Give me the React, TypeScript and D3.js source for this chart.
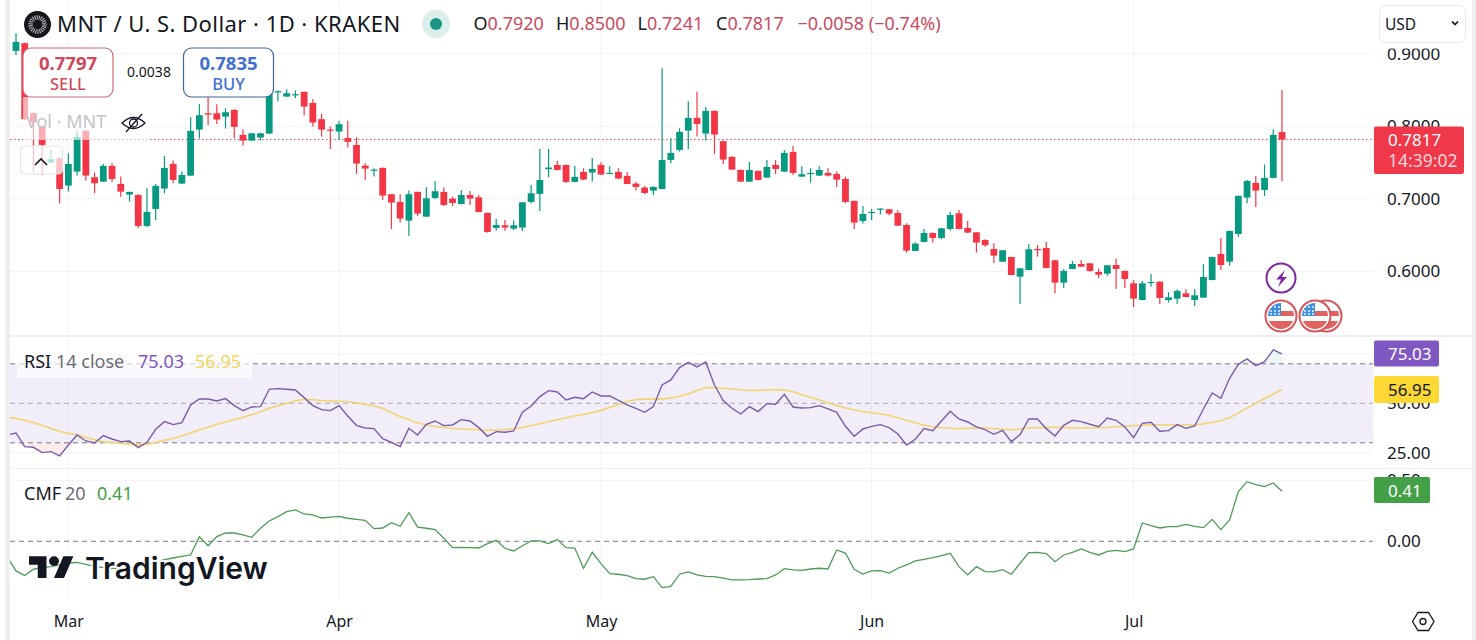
import React, { useRef, useEffect } from 'react';
import * as d3 from 'd3';

const width = 1476;
const height = 640;

// daily candles, first one is Feb 23
const firstDay = new Date(Date.UTC(2025, 1, 23));
const lastDay = new Date(Date.UTC(2025, 6, 18));

const opens = [
  .9041, .9146, .8180, .7996, .7500, .7559, .7182, .7375, .7937, .7297,
  .7237, .7454, .7205, .7058, .7053, .6626, .6860, .7141, .7481, .7210,
  .7320, .7955, .8180, .8180, .8134, .8226, .7881, .7803, .7845, .7900,
  .8470, .8410, .8433, .8475, .8323, .8098, .7955, .7927, .7840, .7743,
  .7458, .7394, .7426, .7063, .6957, .6699, .7095, .6754, .7012, .7095,
  .7003, .6929, .7053, .7021, .6805, .6598, .6635, .6589, .6603, .6957,
  .7067, .7408, .7467, .7467, .7233, .7371, .7362, .7467, .7348, .7371,
  .7316, .7210, .7155, .7113, .7136, .7536, .7674, .7941, .8116, .7900,
  .8213, .7794, .7578, .7398, .7237, .7385, .7293, .7467, .7375, .7647,
  .7306, .7348, .7320, .7357, .7343, .7274, .6971, .6695, .6810, .6856,
  .6856, .6805, .6639, .6281, .6405, .6529, .6460, .6584, .6800, .6598,
  .6538, .6432, .6308, .6133, .6198, .5926, .6018, .6308, .6322, .6152,
  .5844, .6032, .6101, .6110, .5991, .5968, .6087, .6005, .5834, .5604,
  .5844, .5857, .5604, .5623, .5696, .5604, .5637, .5880, .6239, .6133,
  .6515, .7017, .7219, .7122, .7288, .7920,
];
const highs = [
  .9284, .9156, .8190, .8006, .7674, .7569, .7628, .7927, .7946, .7362,
  .7481, .7490, .7306, .7099, .7063, .7145, .7205, .7592, .7527, .7375,
  .8125, .8309, .8401, .8305, .8249, .8236, .7960, .7909, .7909, .8493,
  .8493, .8512, .8493, .8479, .8374, .8171, .7996, .8075, .8075, .7849,
  .7490, .7421, .7431, .7067, .7063, .7113, .7099, .7159, .7247, .7159,
  .7030, .7122, .7109, .7053, .6810, .6722, .6708, .6699, .6957, .7191,
  .7688, .7688, .7523, .7472, .7454, .7421, .7564, .7504, .7449, .7421,
  .7371, .7233, .7178, .7173, .8806, .7835, .7973, .8346, .8475, .8268,
  .8217, .7799, .7587, .7403, .7509, .7389, .7536, .7536, .7674, .7730,
  .7449, .7421, .7449, .7421, .7375, .7306, .6975, .6902, .6860, .6869,
  .6860, .6846, .6662, .6400, .6584, .6534, .6598, .6823, .6846, .6695,
  .6543, .6442, .6386, .6294, .6202, .6046, .6377, .6363, .6405, .6156,
  .6032, .6143, .6156, .6115, .6037, .6087, .6175, .6009, .5880, .5867,
  .5963, .5862, .5710, .5752, .5752, .5752, .6101, .6202, .6460, .6561,
  .7044, .7260, .7316, .7472, .7960, .8500,
];
const lows = [
  .8985, .8088, .7375, .7329, .7490, .6938, .7099, .7320, .7251, .7076,
  .7233, .7228, .7030, .6961, .6593, .6607, .6708, .7076, .7214, .7205,
  .7316, .7831, .8019, .8033, .7969, .7835, .7734, .7799, .7803, .7895,
  .8341, .8406, .8387, .8148, .7996, .7858, .7688, .7812, .7707, .7343,
  .7260, .7306, .6984, .6584, .6672, .6488, .6764, .6750, .6998, .6902,
  .6902, .6920, .6915, .6810, .6534, .6561, .6561, .6570, .6557, .6934,
  .6833, .7297, .7389, .7219, .7228, .7260, .7237, .7325, .7343, .7270,
  .7201, .7113, .7063, .7053, .7132, .7490, .7651, .7688, .7858, .7803,
  .7619, .7481, .7398, .7233, .7233, .7251, .7288, .7343, .7371, .7329,
  .7302, .7224, .7316, .7306, .7164, .6938, .6584, .6658, .6708, .6782,
  .6773, .6626, .6258, .6276, .6400, .6396, .6442, .6561, .6580, .6529,
  .6258, .6340, .6115, .6129, .5945, .5549, .6014, .6202, .6037, .5696,
  .5770, .6028, .6060, .5995, .5908, .5940, .5756, .5770, .5508, .5600,
  .5788, .5549, .5568, .5549, .5641, .5522, .5632, .5876, .6018, .6078,
  .6478, .6938, .6888, .7040, .7279, .7241,
];
const closes = [
  .9165, .8098, .8052, .7743, .7546, .7136, .7481, .7849, .7320, .7214,
  .7454, .7274, .7099, .7095, .6626, .6819, .7178, .7426, .7260, .7329,
  .7937, .8153, .8162, .8093, .8194, .7992, .7803, .7904, .7904, .8466,
  .8484, .8456, .8443, .8272, .8052, .7955, .7946, .8029, .7785, .7486,
  .7417, .7403, .7044, .6948, .6727, .7063, .6796, .7007, .7104, .6915,
  .6943, .7053, .7003, .6819, .6543, .6639, .6603, .6635, .6952, .7076,
  .7260, .7431, .7398, .7233, .7302, .7265, .7412, .7334, .7357, .7279,
  .7205, .7164, .7081, .7164, .7536, .7633, .7923, .8116, .8033, .8213,
  .7886, .7541, .7403, .7237, .7398, .7260, .7440, .7412, .7633, .7357,
  .7339, .7357, .7398, .7320, .7265, .6957, .6672, .6791, .6819, .6865,
  .6796, .6630, .6285, .6382, .6529, .6460, .6593, .6777, .6584, .6534,
  .6396, .6359, .6216, .6290, .5949, .6041, .6304, .6290, .6046, .5844,
  .6005, .6101, .6064, .6005, .5954, .6083, .6032, .5894, .5623, .5834,
  .5853, .5632, .5641, .5729, .5646, .5669, .5922, .6198, .6087, .6557,
  .7040, .7247, .7113, .7288, .7881, .7817,
];

// indicator series start one day earlier than the candles (off the left edge)
const rsiValues = [
  33.96, 34.98, 28.06, 27.72, 25.02, 25.52, 23.33, 28.90, 33.96, 30.93,
  29.91, 33.63, 31.94, 30.59, 30.93, 27.55, 30.25, 36.83, 40.72, 39.20,
  40.21, 49.16, 52.19, 52.19, 51.18, 52.36, 48.82, 46.29, 48.14, 48.31,
  57.09, 57.43, 57.09, 56.75, 52.87, 48.82, 46.79, 46.29, 48.82, 43.59,
  38.86, 37.51, 37.17, 32.11, 30.25, 28.06, 37.34, 33.96, 39.37, 41.05,
  38.69, 39.03, 41.73, 41.05, 37.68, 33.29, 35.65, 35.31, 35.99, 45.44,
  48.65, 53.38, 56.41, 55.74, 51.69, 53.04, 52.36, 55.74, 53.71, 53.71,
  51.52, 49.16, 47.47, 45.44, 48.31, 59.28, 61.82, 68.06, 70.76, 68.40,
  70.93, 59.28, 51.35, 47.47, 44.60, 48.31, 45.78, 49.83, 49.49, 54.56,
  48.14, 47.64, 47.81, 48.82, 47.13, 45.44, 38.35, 33.29, 37.00, 38.35,
  39.20, 37.68, 34.47, 28.90, 31.77, 37.17, 36.16, 41.05, 45.95, 42.07,
  40.55, 38.02, 36.66, 34.30, 36.33, 30.59, 34.13, 42.07, 42.07, 37.17,
  33.46, 38.86, 41.39, 40.72, 39.37, 38.18, 42.57, 41.39, 38.02, 32.61,
  39.87, 40.38, 35.82, 36.16, 39.20, 37.34, 38.52, 47.13, 55.23, 52.53,
  62.66, 69.75, 72.45, 69.07, 71.10, 77.01, 75.03,
];
const rsiMa = [
  42.91, 42.40, 41.39, 40.21, 38.86, 37.34, 35.82, 34.81, 34.13, 32.78,
  31.60, 30.59, 30.25, 29.74, 29.40, 28.90, 29.24, 30.25, 31.26, 32.27,
  33.46, 34.98, 36.50, 37.85, 39.37, 40.55, 41.73, 42.91, 44.26, 45.78,
  47.47, 48.82, 50.00, 51.18, 52.03, 51.86, 51.35, 51.18, 51.01, 50.84,
  50.17, 49.49, 48.65, 47.47, 45.27, 43.25, 41.73, 40.04, 39.03, 38.18,
  37.85, 37.34, 37.00, 36.83, 36.66, 36.33, 36.50, 36.66, 37.00, 37.68,
  38.69, 39.70, 40.72, 41.56, 42.57, 43.59, 44.43, 45.27, 46.45, 47.97,
  49.32, 50.84, 51.86, 52.19, 52.19, 52.19, 52.70, 53.54, 54.73, 56.41,
  57.93, 58.10, 57.60, 57.26, 56.75, 56.58, 56.58, 56.75, 56.92, 56.75,
  55.74, 54.39, 53.04, 51.69, 50.17, 48.82, 47.64, 46.62, 45.78, 45.10,
  44.60, 43.92, 42.74, 41.39, 40.21, 38.86, 38.18, 37.68, 37.34, 37.17,
  37.34, 37.51, 37.51, 37.17, 36.83, 36.66, 37.00, 37.51, 37.68, 37.85,
  37.85, 37.68, 37.51, 37.51, 37.51, 37.68, 37.85, 38.18, 38.35, 38.69,
  38.86, 39.03, 39.03, 39.03, 39.03, 39.03, 39.03, 39.54, 40.38, 41.22,
  42.74, 45.10, 47.64, 50.00, 52.36, 54.73, 56.95,
];
const cmfValues = [
  -.126, -.243, -.281, -.229, -.216, -.208, -.194, -.178, -.172, -.189,
  -.205, -.215, -.222, -.222, -.215, -.205, -.195, -.175, -.150, -.137,
  -.123, -.112, .038, -.036, .038, .068, .068, .052, .033, .107,
  .167, .202, .243, .257, .224, .216, .191, .199, .205, .189,
  .180, .172, .104, .109, .153, .123, .235, .117, .107, .096,
  .025, -.052, -.049, -.052, -.055, -.019, .008, -.057, -.079, -.036,
  .003, .003, -.019, .014, -.052, -.055, -.221, -.090, -.183, -.265,
  -.270, -.281, -.306, -.311, -.290, -.380, -.369, -.270, -.251, -.276,
  -.287, -.290, -.301, -.317, -.317, -.314, -.309, -.306, -.276, -.224,
  -.235, -.238, -.227, -.221, -.227, -.071, -.096, -.229, -.268, -.243,
  -.240, -.260, -.221, -.194, -.161, -.148, -.134, -.117, -.098, -.208,
  -.276, -.208, -.249, -.251, -.232, -.270, -.180, -.093, -.090, -.101,
  -.167, -.112, -.090, -.063, -.090, -.112, -.082, -.074, -.085, -.063,
  .150, .128, .109, .120, .120, .139, .123, .112, .180, .096,
  .175, .407, .489, .464, .448, .478, .410,
];

const priceTicks = [0.9, 0.8, 0.7, 0.6];
const rsiTicks = [75, 50, 25];
const rsiBands = [70, 50, 30];
const cmfTicks = [0.5, 0];
const months = [2, 3, 4, 5, 6].map(m => new Date(Date.UTC(2025, m, 1)));
const ohlcLabels = [['O', '0.7920'], ['H', '0.8500'], ['L', '0.7241'], ['C', '0.7817']];
const changeLabel = '−0.0058 (−0.74%)';

const UP = '#089981';
const DOWN = '#f23645';
const HEADER_RED = '#c94b5e';
const GRID = '#f0f3fa';
const FONT = '"Noto Sans", sans-serif';

const App: React.FC = () => {
  const ref = useRef<SVGSVGElement | null>(null);

  useEffect(() => {
    if (!ref.current) return;
    const svg = d3.select(ref.current);
    svg.selectAll('*').remove();

    const x = d3.scaleUtc().domain([firstDay, lastDay]).range([16, 1282]);
    const xi = (i: number) => x(d3.utcDay.offset(firstDay, i));
    const yPrice = d3.scaleLinear().domain([0.6, 0.9]).range([271.3, 53.8]);
    const yRsi = d3.scaleLinear().domain([30, 70]).range([442.8, 363.8]);
    const yCmf = d3.scaleLinear().domain([0, 0.5]).range([541.3, 480.3]);

    svg.append('rect').attr('width', width).attr('height', height).attr('fill', '#fff');

    const defs = svg.append('defs');
    defs.append('clipPath').attr('id', 'plot').append('rect')
      .attr('x', 10).attr('y', 0).attr('width', 1363).attr('height', 600);

    // page edges and pane dividers
    const frame = svg.append('g').attr('fill', '#efefef');
    frame.append('rect').attr('x', 5).attr('y', 0).attr('width', 5).attr('height', height);
    frame.append('rect').attr('x', 1472).attr('y', 0).attr('width', 4).attr('height', height);
    frame.append('rect').attr('x', 10).attr('y', 335).attr('width', 1462).attr('height', 2);
    frame.append('rect').attr('x', 10).attr('y', 468).attr('width', 1462).attr('height', 1);

    // grid
    const grid = svg.append('g').attr('stroke', GRID).attr('stroke-width', 1);
    months.forEach(m => {
      grid.append('line').attr('x1', x(m)).attr('x2', x(m)).attr('y1', 0).attr('y2', 600);
    });
    priceTicks.forEach(t => {
      grid.append('line').attr('x1', 10).attr('x2', 1373).attr('y1', yPrice(t)).attr('y2', yPrice(t));
    });
    [75, 25].forEach(t => {
      grid.append('line').attr('x1', 10).attr('x2', 1373).attr('y1', yRsi(t)).attr('y2', yRsi(t));
    });
    grid.append('line').attr('x1', 10).attr('x2', 1373).attr('y1', yCmf(0.5)).attr('y2', yCmf(0.5));

    const plot = svg.append('g').attr('clip-path', 'url(#plot)');

    // last price line
    plot.append('line')
      .attr('x1', 10).attr('x2', 1373)
      .attr('y1', yPrice(closes[closes.length - 1])).attr('y2', yPrice(closes[closes.length - 1]))
      .attr('stroke', '#d0485c').attr('stroke-width', 1).attr('stroke-dasharray', '1.5 2.5');

    // candles
    const candles = plot.append('g').selectAll('g').data(opens).join('g')
      .attr('fill', (d, i) => (closes[i] >= d ? UP : DOWN))
      .attr('stroke', (d, i) => (closes[i] >= d ? UP : DOWN));
    candles.append('line')
      .attr('x1', (d, i) => xi(i)).attr('x2', (d, i) => xi(i))
      .attr('y1', (d, i) => yPrice(highs[i])).attr('y2', (d, i) => yPrice(lows[i]))
      .attr('stroke-width', 1.2);
    candles.append('rect')
      .attr('stroke', 'none')
      .attr('x', (d, i) => xi(i) - 3.4).attr('width', 6.8)
      .attr('y', (d, i) => yPrice(Math.max(d, closes[i])))
      .attr('height', (d, i) => Math.max(1.2, Math.abs(yPrice(d) - yPrice(closes[i]))));

    // RSI pane
    plot.append('rect')
      .attr('x', 10).attr('width', 1363)
      .attr('y', yRsi(70)).attr('height', yRsi(30) - yRsi(70))
      .attr('fill', '#7e57c2').attr('opacity', 0.1);
    rsiBands.forEach(b => {
      plot.append('line')
        .attr('x1', 10).attr('x2', 1373).attr('y1', yRsi(b)).attr('y2', yRsi(b))
        .attr('stroke', '#787b86').attr('stroke-dasharray', '5 4')
        .attr('opacity', b === 50 ? 0.6 : 1);
    });
    const xs = (i: number) => xi(i - 1);
    const rsiOver = d3.area<number>().x((d, i) => xs(i)).y0(yRsi(70)).y1(d => yRsi(Math.max(d, 70)));
    const rsiUnder = d3.area<number>().x((d, i) => xs(i)).y0(yRsi(30)).y1(d => yRsi(Math.min(d, 30)));
    plot.append('path').attr('d', rsiOver(rsiValues)).attr('fill', UP).attr('opacity', 0.08);
    plot.append('path').attr('d', rsiUnder(rsiValues)).attr('fill', DOWN).attr('opacity', 0.1);
    const rsiLine = d3.line<number>().x((d, i) => xs(i)).y(d => yRsi(d));
    plot.append('path').attr('d', rsiLine(rsiMa))
      .attr('fill', 'none').attr('stroke', '#f2d67e').attr('stroke-width', 1.8);
    plot.append('path').attr('d', rsiLine(rsiValues))
      .attr('fill', 'none').attr('stroke', '#7a5ba8').attr('stroke-width', 1.4);

    // CMF pane
    plot.append('line')
      .attr('x1', 10).attr('x2', 1373).attr('y1', yCmf(0)).attr('y2', yCmf(0))
      .attr('stroke', '#787b86').attr('stroke-dasharray', '5 4');
    const cmfLine = d3.line<number>().x((d, i) => xs(i)).y(d => yCmf(d));
    plot.append('path').attr('d', cmfLine(cmfValues))
      .attr('fill', 'none').attr('stroke', '#4f9a57').attr('stroke-width', 1.3);

    // washed out area behind the order buttons and volume legend
    svg.append('rect').attr('x', 23).attr('y', 97).attr('width', 125).attr('height', 43)
      .attr('fill', '#fff').attr('opacity', 0.6);

    // right scales
    const axisText = (g: d3.Selection<SVGGElement, unknown, null, undefined>) => {
      g.select('.domain').remove();
      g.selectAll('.tick line').remove();
      g.selectAll('text').attr('x', 0).attr('fill', '#131722')
        .attr('font-family', FONT).attr('font-size', 17);
    };
    svg.append('g').attr('transform', 'translate(1387,0)')
      .call(d3.axisRight(yPrice).tickValues(priceTicks).tickFormat(d3.format('.4f') as any)).call(axisText);
    svg.append('g').attr('transform', 'translate(1387,0)')
      .call(d3.axisRight(yRsi).tickValues(rsiTicks).tickFormat(d3.format('.2f') as any)).call(axisText);
    svg.append('g').attr('transform', 'translate(1387,0)')
      .call(d3.axisRight(yCmf).tickValues(cmfTicks).tickFormat(d3.format('.2f') as any)).call(axisText);

    // the selector panel cuts the top of the first price label
    svg.append('rect').attr('x', 1374).attr('y', 0).attr('width', 98).attr('height', 48.5).attr('fill', '#fff');

    // time axis
    const timeAxis = svg.append('g').attr('transform', 'translate(0,615)')
      .call(d3.axisBottom(x).tickValues(months).tickFormat(d3.utcFormat('%b') as any));
    timeAxis.select('.domain').remove();
    timeAxis.selectAll('.tick line').remove();
    timeAxis.selectAll('text').attr('y', 0).attr('dy', '.78em').attr('fill', '#131722')
      .attr('font-family', FONT).attr('font-size', 16);

    const label = (
      tx: number, ty: number, str: string, size: number, fill: string,
      opts: { weight?: number; anchor?: string } = {},
    ) => svg.append('text')
      .attr('x', tx).attr('y', ty).text(str)
      .attr('font-family', FONT).attr('font-size', size).attr('fill', fill)
      .attr('font-weight', opts.weight ?? 400).attr('text-anchor', opts.anchor ?? 'start');

    // value tags on the scales
    const tag = (
      tx: number, ty: number, w: number, h: number, fill: string, str: string, color: string, baseline: number,
    ) => {
      svg.append('rect').attr('x', tx).attr('y', ty).attr('width', w).attr('height', h).attr('rx', 2).attr('fill', fill);
      label(1388, baseline, str, 17, color);
    };
    tag(1374, 126.5, 90, 47.5, '#f0384b', '0.7817', '#fff', 145.5);
    label(1388, 167, '14:39:02', 17.5, '#fbd5d9');
    tag(1374, 340.5, 65, 26, '#7e57c2', '75.03', '#fff', 359.5);
    tag(1374, 376, 65, 27, '#fdd835', '56.95', '#131722', 395.5);
    tag(1374, 477, 56, 26, '#43a047', '0.41', '#fff', 496.5);

    // header
    const logo = svg.append('g');
    logo.append('circle').attr('cx', 37.5).attr('cy', 24.5).attr('r', 13.5).attr('fill', '#14161b');
    logo.append('circle').attr('cx', 37.5).attr('cy', 24.5).attr('r', 7).attr('fill', 'none')
      .attr('stroke', '#b9bcc2').attr('stroke-width', 4.5).attr('stroke-dasharray', '1 1');
    label(57, 32, 'MNT / U. S. Dollar · 1D · KRAKEN', 22, '#131722').attr('letter-spacing', 0.46);
    svg.append('circle').attr('cx', 436).attr('cy', 24).attr('r', 14).attr('fill', '#dcefed');
    svg.append('circle').attr('cx', 436).attr('cy', 24).attr('r', 6).attr('fill', '#1c9483');

    const ohlc = svg.append('text').attr('y', 30)
      .attr('font-family', FONT).attr('font-size', 18);
    [473.5, 556, 637.5, 716].forEach((gx, i) => {
      ohlc.append('tspan').attr('x', gx).text(ohlcLabels[i][0]).attr('fill', '#131722');
      ohlc.append('tspan').text(ohlcLabels[i][1]).attr('fill', HEADER_RED);
    });
    ohlc.append('tspan').attr('x', 797.5).text(changeLabel).attr('fill', HEADER_RED);

    // USD selector
    svg.append('rect').attr('x', 1379.5).attr('y', 5.5).attr('width', 86).attr('height', 37).attr('rx', 6)
      .attr('fill', '#fff').attr('stroke', '#e6e8ee');
    label(1385, 29.5, 'USD', 15.5, '#131722');
    svg.append('path').attr('d', 'M1452 21.5l3 3 3-3').attr('fill', 'none')
      .attr('stroke', '#131722').attr('stroke-width', 1.7);

    // buy / sell buttons
    const button = (bx: number, color: string, stroke: string, price: string, side: string) => {
      svg.append('rect').attr('x', bx).attr('y', 48).attr('width', 90).attr('height', 49).attr('rx', 8)
        .attr('fill', '#fff').attr('stroke', stroke).attr('stroke-width', 1.2);
      label(bx + 45, 69.5, price, 18.5, color, { weight: 700, anchor: 'middle' });
      label(bx + 45, 90, side, 16.5, color, { weight: 500, anchor: 'middle' });
    };
    button(23, '#d0485c', '#cc6a78', '0.7797', 'SELL');
    button(183.5, '#3f6fd0', '#3d6596', '0.7835', 'BUY');
    label(149, 77, '0.0038', 14, '#131722', { anchor: 'middle' });

    // volume legend
    label(26, 128, 'Vol · MNT', 18, '#c2c3c8');
    const eye = svg.append('g').attr('fill', 'none').attr('stroke', '#131722').attr('stroke-width', 1.3);
    eye.append('path').attr('d', 'M122 123q11.5-11 23 0q-11.5 11-23 0z');
    eye.append('circle').attr('cx', 133.5).attr('cy', 123).attr('r', 4);
    eye.append('path').attr('d', 'M126 132l16-18');

    // collapse button
    svg.append('rect').attr('x', 20.5).attr('y', 146).attr('width', 42).attr('height', 28).attr('rx', 4)
      .attr('fill', '#fff').attr('fill-opacity', 0.7).attr('stroke', '#e0e3eb');
    svg.append('path').attr('d', 'M35 165l6-6 6 6').attr('fill', 'none')
      .attr('stroke', '#131722').attr('stroke-width', 1.6);

    // event badges
    const bolt = svg.append('g');
    bolt.append('circle').attr('cx', 1281).attr('cy', 278).attr('r', 14.5)
      .attr('fill', '#fff').attr('stroke', '#7b2a9e').attr('stroke-width', 2);
    bolt.append('path').attr('d', 'M1285 270l-9 9.5h5l-3 7.5 9-10h-5z').attr('fill', '#7b2a9e');

    const flag = (cx: number, id: string) => {
      const cy = 316;
      defs.append('clipPath').attr('id', id).append('circle').attr('cx', cx).attr('cy', cy).attr('r', 13);
      svg.append('circle').attr('cx', cx).attr('cy', cy).attr('r', 15.5)
        .attr('fill', '#fff').attr('stroke', '#d6555a').attr('stroke-width', 2);
      const g = svg.append('g').attr('clip-path', `url(#${id})`);
      g.append('rect').attr('x', cx - 14).attr('y', cy - 14).attr('width', 28).attr('height', 28).attr('fill', '#fff');
      g.append('rect').attr('x', cx).attr('y', cy - 5).attr('width', 14).attr('height', 5).attr('fill', '#e2625f');
      g.append('rect').attr('x', cx - 14).attr('y', cy + 5).attr('width', 28).attr('height', 9).attr('fill', '#e2625f');
      g.append('rect').attr('x', cx - 14).attr('y', cy - 14).attr('width', 14).attr('height', 14).attr('fill', '#3f8fe0');
      [-10, -6, -2].forEach(dx => [-9, -5, -2].forEach(dy => {
        g.append('circle').attr('cx', cx + dx).attr('cy', cy + dy).attr('r', 0.9).attr('fill', '#fff');
      }));
    };
    flag(1326, 'flag3');
    flag(1315, 'flag2');
    flag(1281, 'flag1');

    // indicator legends
    svg.append('rect').attr('x', 17).attr('y', 352).attr('width', 235).attr('height', 26)
      .attr('fill', '#fff').attr('opacity', 0.65);
    const rsiLegend = svg.append('text').attr('y', 367.5)
      .attr('font-family', FONT).attr('font-size', 18);
    rsiLegend.append('tspan').attr('x', 24).text('RSI').attr('fill', '#131722');
    rsiLegend.append('tspan').attr('x', 56).text('14 close').attr('fill', '#6a6d78');
    rsiLegend.append('tspan').attr('x', 138).text('75.03').attr('fill', '#7e57c2');
    rsiLegend.append('tspan').attr('x', 195).text('56.95').attr('fill', '#f2d65c');
    const cmfLegend = svg.append('text').attr('y', 499.5)
      .attr('font-family', FONT).attr('font-size', 18);
    cmfLegend.append('tspan').attr('x', 24).text('CMF').attr('fill', '#131722');
    cmfLegend.append('tspan').attr('x', 65).text('20').attr('fill', '#6a6d78');
    cmfLegend.append('tspan').attr('x', 97).text('0.41').attr('fill', '#43a047');

    // watermark
    const mark = svg.append('g').attr('transform', 'translate(29,551.5) scale(1.25,1.2)').attr('fill', '#131722');
    mark.append('path').attr('d', 'M14 22H7V11H0V4h14v18zM28 22h-8l7.5-18h8L28 22z');
    mark.append('circle').attr('cx', 20).attr('cy', 8).attr('r', 4);
    label(85, 579, 'TradingView', 30, '#131722', { weight: 600 })
      .attr('font-family', 'Inter, sans-serif')
      .attr('stroke', '#fff').attr('stroke-width', 3.5).attr('paint-order', 'stroke');

    // settings icon
    const gear = svg.append('g').attr('fill', 'none').attr('stroke', '#131722').attr('stroke-width', 1.3);
    gear.append('path').attr('d', 'M1412.5 621.5l5.5-9h10.5l5.5 9-5.5 9h-10.5z');
    gear.append('circle').attr('cx', 1423).attr('cy', 621.5).attr('r', 3);
  }, []);

  return <svg ref={ref} width={width} height={height} style={{ position: 'absolute', left: 0, top: 0 }} />;
};

export default App;
